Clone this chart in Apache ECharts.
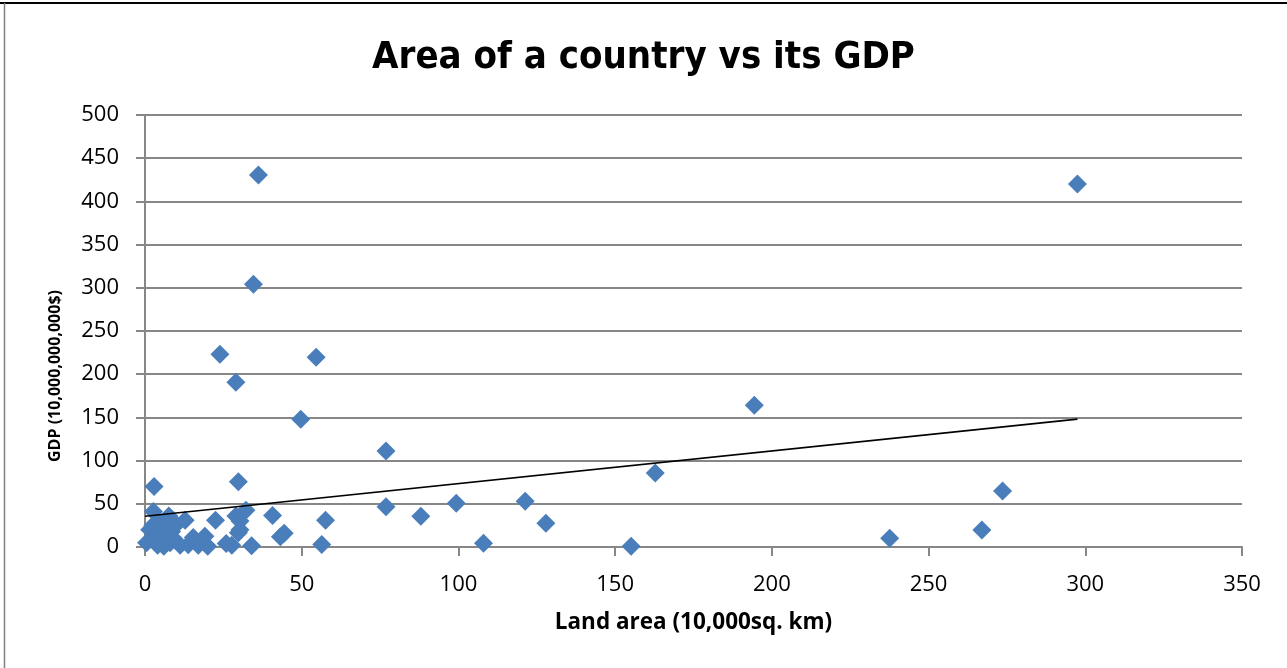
<!DOCTYPE html>
<html>
<head>
<meta charset="utf-8">
<script src="https://cdn.jsdelivr.net/npm/echarts@6/dist/echarts.min.js"></script>
<style>
  html, body { margin: 0; padding: 0; background: #fff; }
  #chart { width: 1287px; height: 668px; }
</style>
</head>
<body>
<div id="chart"></div>
<script>
// Land area (10,000 sq. km) of each country
const landArea = [
  36.2, 297.5, 34.6, 23.9, 54.6, 29.0, 49.7, 76.9, 194.4, 162.8,
  2.9, 29.8, 76.9, 88.0, 99.3, 108.0, 121.3, 127.9, 155.1, 237.6,
  267.0, 273.6, 57.6, 56.4, 40.7, 44.4, 43.2, 34.0, 32.2, 30.3,
  30.3, 29.0, 29.8, 25.9, 27.7, 19.1, 15.4, 13.8, 17.0, 11.2,
  22.5, 12.8, 7.6, 2.7, 0.5, 1.5, 2.5, 3.5, 4.0, 4.5,
  5.0, 5.5, 6.0, 6.5, 7.0, 8.0, 8.5, 9.0, 10.0, 20.0
];
// GDP (10,000,000,000 $) of each country
const gdp = [
  430.5, 420, 304, 223, 219.5, 190.6, 147.8, 111, 164, 85.6,
  70, 75.6, 46.6, 35.5, 50.6, 4.3, 53, 27.6, 1, 10,
  19.7, 64.8, 31, 3, 36.5, 16, 12, 1.5, 42.5, 30,
  20, 36, 16.5, 4, 2, 12.5, 11, 2.5, 2, 2,
  31, 31, 36, 41, 5, 20, 25, 12, 2, 29,
  8, 22, 1, 15, 27, 5, 18, 10, 26, 1
];
// Linear trend line end points (land area, GDP)
const trendX = [0, 297.5];
const trendY = [35.5, 148];
// Axis ranges
const xTicks = [0, 50, 100, 150, 200, 250, 300, 350];
const yTicks = [0, 50, 100, 150, 200, 250, 300, 350, 400, 450, 500];

const points = landArea.map((x, i) => [x, gdp[i]]);
const trend = trendX.map((x, i) => [x, trendY[i]]);

const chart = echarts.init(document.getElementById('chart'), null, { renderer: 'canvas' });
const gridColor = '#878787';
const font = '"Open Sans", "Noto Sans", sans-serif';

chart.setOption({
  animation: false,
  backgroundColor: '#ffffff',
  title: {
    text: 'Area of a country vs its GDP',
    left: 'center',
    top: 34,
    textStyle: {
      fontFamily: '"Liberation Sans Narrow", "DejaVu Sans Condensed", sans-serif',
      fontSize: 38,
      fontWeight: 'bold',
      color: '#000'
    }
  },
  grid: { left: 145, right: 45, top: 115, bottom: 121 },
  xAxis: {
    type: 'value',
    min: xTicks[0],
    max: xTicks[xTicks.length - 1],
    interval: 50,
    name: 'Land area (10,000sq. km)',
    nameLocation: 'middle',
    nameGap: 64,
    nameTextStyle: { fontFamily: font, fontSize: 22.5, fontWeight: 'bold', color: '#000' },
    axisLine: { show: true, lineStyle: { color: gridColor, width: 2 } },
    axisTick: { show: true, length: 9, inside: false, lineStyle: { color: gridColor, width: 2 } },
    axisLabel: { fontFamily: font, fontSize: 22, color: '#000', margin: 27 },
    splitLine: { show: false }
  },
  yAxis: {
    type: 'value',
    min: yTicks[0],
    max: yTicks[yTicks.length - 1],
    interval: 50,
    axisLine: { show: true, lineStyle: { color: gridColor, width: 2 } },
    axisTick: { show: true, length: 9, lineStyle: { color: gridColor, width: 2 } },
    axisLabel: { fontFamily: font, fontSize: 22, color: '#000', margin: 26 },
    splitLine: { show: true, lineStyle: { color: gridColor, width: 2 } }
  },
  series: [
    {
      type: 'scatter',
      data: points,
      symbol: 'diamond',
      symbolSize: [19, 19],
      itemStyle: { color: '#4a7ebb', opacity: 1 },
      z: 3
    },
    {
      type: 'line',
      data: trend,
      symbol: 'none',
      lineStyle: { color: '#000', width: 1.6 },
      z: 4
    }
  ],
  graphic: [
    { type: 'line', shape: { x1: 0, y1: 3, x2: 1287, y2: 3 }, style: { stroke: '#000', lineWidth: 2 } },
    { type: 'line', shape: { x1: 4.5, y1: 3, x2: 4.5, y2: 668 }, style: { stroke: '#808080', lineWidth: 1.5 } },
    {
      // vertical axis title
      type: 'text',
      x: 55, y: 376,
      rotation: Math.PI / 2,
      style: {
        text: 'GDP (10,000,000,000$)',
        font: 'bold 16px "Open Sans", "Noto Sans", sans-serif',
        fill: '#000',
        align: 'center',
        verticalAlign: 'middle'
      }
    }
  ]
});
</script>
</body>
</html>
